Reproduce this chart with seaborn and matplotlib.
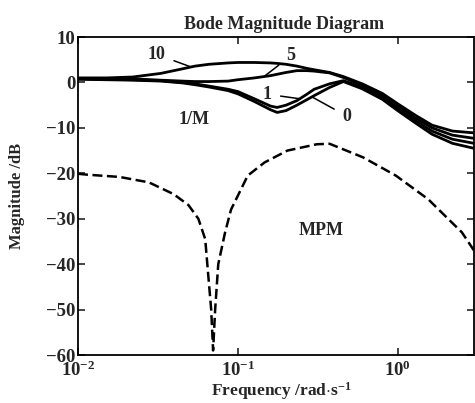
import numpy as np
import pandas as pd
import matplotlib
matplotlib.use("Agg")
import matplotlib.pyplot as plt
import seaborn as sns

# frequency grid shared by the 1/M curves (rad/s)
freq = [0.01, 0.015, 0.022, 0.033, 0.045, 0.054, 0.066, 0.087, 0.1, 0.127,
        0.16, 0.176, 0.2, 0.234, 0.27, 0.3, 0.375, 0.457, 0.6, 0.8,
        1.0, 1.3, 1.64, 2.2, 3.0]

inv_m_10 = [1.0, 1.0, 1.2, 2.0, 3.0, 3.6, 4.0, 4.3, 4.4, 4.4,
            4.3, 4.2, 4.0, 3.6, 3.1, 2.8, 2.2, 1.3, -0.3, -2.4,
            -4.7, -7.3, -9.4, -10.7, -11.1]
inv_m_5 = [0.9, 0.9, 0.8, 0.5, 0.3, 0.2, 0.2, 0.3, 0.6, 1.0,
           1.5, 1.8, 2.2, 2.6, 2.6, 2.5, 2.1, 1.1, -0.6, -2.8,
           -5.2, -7.9, -10.0, -11.6, -12.3]
inv_m_1 = [0.8, 0.7, 0.6, 0.4, 0.0, -0.3, -0.8, -1.5, -2.0, -3.6,
           -5.2, -5.5, -5.0, -4.0, -2.6, -1.5, -0.3, 0.4, -1.0, -3.2,
           -5.7, -8.5, -10.7, -12.5, -13.4]
inv_m_0 = [0.7, 0.6, 0.5, 0.3, -0.1, -0.5, -1.0, -1.8, -2.5, -4.2,
           -6.0, -6.6, -6.2, -5.0, -3.8, -2.9, -1.1, 0.2, -1.4, -3.7,
           -6.2, -9.0, -11.4, -13.4, -14.5]

# multiplicative perturbation magnitude (dashed)
mpm_freq = [0.01, 0.0114, 0.0182, 0.0278, 0.0397, 0.0491, 0.0566, 0.0625, 0.0644,
            0.0681, 0.0700, 0.0721, 0.0754, 0.0832, 0.0906, 0.1153, 0.147, 0.204,
            0.312, 0.375, 0.608, 0.973, 1.55, 2.52, 3.0]
mpm_db = [-20.1, -20.3, -20.8, -22.0, -24.6, -27.0, -30.0, -34.5, -40.0,
          -50.0, -59.0, -50.0, -40.0, -33.0, -28.0, -20.5, -17.6, -15.0,
          -13.6, -13.5, -16.5, -20.5, -25.7, -33.0, -37.0]

param_labels = ["10", "5", "1", "0"]

curves = pd.DataFrame({
    "freq": freq * 4,
    "db": inv_m_10 + inv_m_5 + inv_m_1 + inv_m_0,
    "k": sum([[k] * len(freq) for k in param_labels], []),
})
mpm = pd.DataFrame({"freq": mpm_freq, "db": mpm_db})

sns.set_theme(style="ticks")
plt.rcParams["font.family"] = ["Liberation Serif", "DejaVu Serif"]
plt.rcParams["font.weight"] = "bold"
plt.rcParams["mathtext.fontset"] = "custom"
plt.rcParams["mathtext.rm"] = "Liberation Serif:bold"
plt.rcParams["mathtext.it"] = "Liberation Serif:bold"
plt.rcParams["mathtext.bf"] = "Liberation Serif:bold"

fig = plt.figure(figsize=(4.75, 4.03), dpi=100)
ax = fig.add_axes([0.1642, 0.1191, 0.8337, 0.789])

sns.lineplot(data=curves, x="freq", y="db", hue="k", sort=False,
             palette=["black"] * 4, linewidth=2.0, legend=False, ax=ax)
sns.lineplot(data=mpm, x="freq", y="db", sort=False, color="black",
             linewidth=1.8, ax=ax)
ax.lines[-1].set_dashes([4, 1.8])

ax.set_xscale("log")
ax.set_xlim(0.01, 3)
ax.set_ylim(-60, 10)
ax.set_yticks(np.arange(-60, 11, 10))
ax.set_xticks([0.01, 0.1, 1])
ax.xaxis.set_minor_locator(matplotlib.ticker.NullLocator())

ax.tick_params(direction="in", length=5, width=1.2, top=True, right=True,
               labelsize=13.5, pad=2)
ax.tick_params(axis="x", pad=4)
for s in ax.spines.values():
    s.set_linewidth(1.3)
    s.set_color("black")

ax.set_title("Bode Magnitude Diagram", fontsize=13, fontweight="bold",
             x=0.52, pad=6)
ax.set_xlabel(r"Frequency /rad$\cdot$s$^{-1}$", fontsize=12.5, fontweight="bold")
ax.xaxis.set_label_coords(0.513, -0.08)
ax.set_ylabel("Magnitude /dB", fontsize=12, fontweight="bold")
ax.yaxis.set_label_coords(-0.135, 0.5)

lab = dict(fontsize=13, fontweight="bold", ha="center", va="center")
line = dict(arrowstyle="-", color="black", lw=1.1, shrinkA=4, shrinkB=0)
ax.annotate("10", xy=(0.051, 3.4), xytext=(0.031, 6.2),
            arrowprops=line, **lab)
ax.annotate("5", xy=(0.147, 1.4), xytext=(0.215, 5.9),
            arrowprops=line, **lab)
ax.annotate("1", xy=(0.245, -3.6), xytext=(0.153, -2.6),
            arrowprops=line, **lab)
ax.annotate("0", xy=(0.295, -3.3), xytext=(0.48, -7.4),
            arrowprops=line, **lab)
ax.text(0.053, -8.2, "1/M", **lab)
ax.text(0.33, -32.5, "MPM", **lab)

fig.savefig("out.png", dpi=100)
